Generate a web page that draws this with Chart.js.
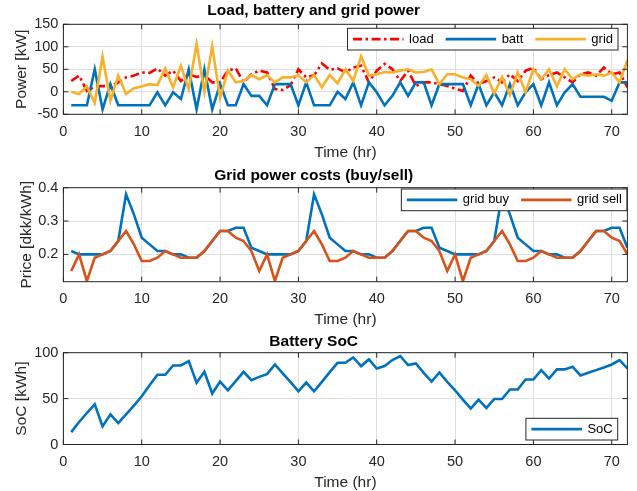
<!DOCTYPE html>
<html>
<head>
<meta charset="utf-8">
<script src="https://cdn.jsdelivr.net/npm/chart.js@4.4.1/dist/chart.umd.min.js"></script>
<style>
  html, body { margin: 0; padding: 0; background: #fff; }
  body { width: 637px; height: 491px; position: relative; overflow: hidden; }
  .panel { position: absolute; left: 0; width: 637px; }
</style>
</head>
<body>
<div class="panel" style="top:0;height:163px"><canvas id="power"></canvas></div>
<div class="panel" style="top:163px;height:165px"><canvas id="price"></canvas></div>
<div class="panel" style="top:328px;height:163px"><canvas id="soc"></canvas></div>
<script>
// ---- data ----
const loadKW = [24,36,2,12,13,12,21,32,36,43,42,52,36,47,24,39,33,37,21,21,47,52,21,39,
                47,43,6,4,15,50,32,37,63,49,52,43,54,58,21,47,62,50,24,47,13,21,21,17,
                13,7,2,36,17,24,32,21,39,24,47,53,28,37,43,32,21,39,43,36,54,39,43,10];
const battKW = [-30,-30,-30,50,-39,17,-30,-30,-30,-30,-30,-1,-30,-1,-16,50,-39,50,-39,17,-30,-30,17,-9,
                -9,-30,17,17,17,-30,21,-30,-30,-30,0,-16,21,-30,21,-1,-30,-9,21,-9,21,21,-30,17,
                17,17,17,-30,17,-30,-1,-30,17,-30,-1,17,-30,21,-30,-1,17,-11,-11,-11,-11,-20,21,21];
const gridKW = [0,-5,12,-25,78,-20,36,-5,8,12,17,15,52,10,58,6,106,0,101,-13,47,21,24,37,
                28,37,21,32,32,37,21,37,10,37,19,50,24,79,36,39,44,43,47,50,43,44,50,17,
                39,39,32,28,13,37,-4,33,-7,43,-1,50,28,50,12,50,28,39,36,39,36,43,21,70];
const priceBuy = [0.21,0.20,0.20,0.20,0.20,0.21,0.24,0.38,0.32,0.25,0.23,0.21,0.21,0.20,0.20,0.19,0.19,0.21,0.24,0.27,0.27,0.28,0.28,0.22,
                  0.21,0.20,0.20,0.20,0.20,0.21,0.24,0.38,0.32,0.25,0.23,0.21,0.21,0.20,0.20,0.19,0.19,0.21,0.24,0.27,0.27,0.28,0.28,0.22,
                  0.21,0.20,0.20,0.20,0.20,0.21,0.24,0.38,0.32,0.25,0.23,0.21,0.21,0.20,0.20,0.19,0.19,0.21,0.24,0.27,0.27,0.28,0.28,0.22];
const priceSell = [0.15,0.20,0.12,0.19,0.20,0.21,0.24,0.27,0.23,0.18,0.18,0.19,0.21,0.20,0.19,0.19,0.19,0.21,0.24,0.27,0.27,0.25,0.24,0.21,
                   0.15,0.20,0.12,0.19,0.20,0.21,0.24,0.27,0.23,0.18,0.18,0.19,0.21,0.20,0.19,0.19,0.19,0.21,0.24,0.27,0.27,0.25,0.24,0.21,
                   0.15,0.20,0.12,0.19,0.20,0.21,0.24,0.27,0.23,0.18,0.18,0.19,0.21,0.20,0.19,0.19,0.19,0.21,0.24,0.27,0.27,0.25,0.24,0.20];
const socKWh = [13.5,24.5,34.3,43.8,19.7,32.8,23.4,32.8,42.3,52.6,64.6,75.9,75.9,86.1,86.1,90.9,67.2,79.2,55.5,68.6,59.1,69,79.2,70.1,
                73.7,76.6,87.2,77.4,67.9,58,67.5,58,68.2,78.8,89,89,94.9,85.4,92.7,82.8,85.4,92,96.4,86.5,88.3,78.1,68.6,78.5,
                68.2,59.1,48.9,39.1,48.9,39.8,49.6,49.6,59.9,59.9,70.8,70.8,81,71.9,81.8,81.8,84.7,75.2,78.1,81,83.9,87.2,92,82.8];
const hours = socKWh.map((_, i) => i + 1);

const xTicks = [0, 10, 20, 30, 40, 50, 60, 70];
const powerTicks = [-50, 0, 50, 100, 150];
const priceTicks = [0.2, 0.3, 0.4];
const socTicks = [0, 50, 100];

// ---- styling ----
const FONT = "'Liberation Sans', Arial, Helvetica, sans-serif";
const AXIS = '#262626';
const GRID = '#dfdfdf';
const LW = 2.6;
const BLUE = '#0072BD', ORANGE = '#D95319', YELLOW = '#F9B02A', RED = '#FF0000';

function pts(ys) { return ys.map((y, i) => ({ x: hours[i], y: y })); }

// axes box plus inward tick marks, like the original
const boxPlugin = {
  id: 'axesBox',
  afterDatasetsDraw(chart) {
    const { ctx, chartArea: a, scales } = chart;
    const len = 5;
    ctx.save();
    ctx.strokeStyle = AXIS;
    ctx.lineWidth = 1;
    ctx.beginPath();
    scales.x.ticks.forEach(t => {
      const px = scales.x.getPixelForValue(t.value);
      ctx.moveTo(px, a.bottom); ctx.lineTo(px, a.bottom - len);
      ctx.moveTo(px, a.top); ctx.lineTo(px, a.top + len);
    });
    scales.y.ticks.forEach(t => {
      const py = scales.y.getPixelForValue(t.value);
      ctx.moveTo(a.left, py); ctx.lineTo(a.left + len, py);
      ctx.moveTo(a.right, py); ctx.lineTo(a.right - len, py);
    });
    ctx.stroke();
    ctx.strokeRect(a.left, a.top, a.right - a.left, a.bottom - a.top);
    ctx.restore();
  }
};

// legend drawn inside the plot area
const legendPlugin = {
  id: 'boxLegend',
  afterDraw(chart, args, opts) {
    const { ctx, chartArea: a } = chart;
    const pad = 5.5, lineLen = 50.5, gap = 5.5, sep = 12, padEnd = 5, h = 21.7;
    ctx.save();
    ctx.font = '13px ' + FONT;
    const items = chart.data.datasets.map(d => ({ d: d, w: ctx.measureText(d.label).width }));
    let width = pad + padEnd + sep * (items.length - 1);
    items.forEach(it => { width += lineLen + gap + it.w; });
    const x0 = a.right - opts.right - width;
    const y0 = opts.top != null ? a.top + opts.top : a.bottom - opts.bottom - h;
    ctx.fillStyle = '#fff';
    ctx.fillRect(x0, y0, width, h);
    ctx.strokeStyle = AXIS;
    ctx.lineWidth = 1;
    ctx.strokeRect(x0, y0, width, h);
    let x = x0 + pad;
    const cy = y0 + h / 2;
    items.forEach(it => {
      ctx.strokeStyle = it.d.borderColor;
      ctx.lineWidth = it.d.borderWidth || LW;
      ctx.setLineDash(it.d.borderDash || []);
      ctx.beginPath();
      ctx.moveTo(x, cy);
      ctx.lineTo(x + lineLen, cy);
      ctx.stroke();
      ctx.setLineDash([]);
      x += lineLen + gap;
      ctx.fillStyle = '#000';
      ctx.textBaseline = 'middle';
      ctx.textAlign = 'left';
      ctx.fillText(it.d.label, x, cy);
      x += it.w + sep;
    });
    ctx.restore();
  }
};

function makeChart(id, c) {
  return new Chart(document.getElementById(id), {
    type: 'line',
    data: { datasets: c.datasets },
    options: {
      responsive: true,
      maintainAspectRatio: false,
      animation: false,
      layout: { padding: { left: 0, right: 9.6, top: 0, bottom: 0 } },
      elements: { point: { radius: 0 }, line: { tension: 0, borderWidth: LW } },
      plugins: {
        legend: { display: false },
        tooltip: { enabled: false },
        title: {
          display: true, text: c.title, color: '#000',
          font: { family: FONT, size: 15.5, weight: 'bold', lineHeight: 1 },
          padding: c.titlePad
        },
        boxLegend: c.legend
      },
      scales: {
        x: {
          type: 'linear', min: 0, max: 72,
          afterBuildTicks: s => { s.ticks = xTicks.map(v => ({ value: v })); },
          afterFit: s => { s.height = c.xHeight; },
          grid: { color: GRID, drawTicks: false },
          border: { display: false },
          ticks: { color: AXIS, padding: 10, maxRotation: 0, font: { family: FONT, size: 14.5, lineHeight: 1 }, callback: v => v },
          title: { display: true, text: 'Time (hr)', color: AXIS,
                   font: { family: FONT, size: 15.5, lineHeight: 1 }, padding: { top: 0, bottom: c.xTitlePad } }
        },
        y: {
          min: c.yMin, max: c.yMax,
          afterBuildTicks: s => { s.ticks = c.yTicks.map(v => ({ value: v })); },
          afterFit: s => { s.width = 63.4; },
          grid: { color: GRID, drawTicks: false },
          border: { display: false },
          ticks: { color: AXIS, padding: 5, font: { family: FONT, size: 14.5, lineHeight: 1 }, callback: v => v },
          title: { display: true, text: c.yTitle, color: AXIS,
                   font: { family: FONT, size: 15.5, lineHeight: 1 }, padding: { top: c.yTitlePad, bottom: 0 } }
        }
      }
    },
    plugins: [boxPlugin, legendPlugin]
  });
}

makeChart('power', {
  title: 'Load, battery and grid power',
  titlePad: { top: 3.25, bottom: 5.55 },
  xHeight: 48.7, xTitlePad: 2.55,
  yMin: -50, yMax: 150, yTicks: powerTicks,
  yTitle: 'Power [kW]', yTitlePad: 13.75,
  legend: { right: 9.4, top: 4 },
  datasets: [
    { label: 'load', data: pts(loadKW), borderColor: RED, borderWidth: LW, borderDash: [9, 3.5, 2.5, 3.5], order: 2 },
    { label: 'batt', data: pts(battKW), borderColor: BLUE, borderWidth: LW, order: 1 },
    { label: 'grid', data: pts(gridKW), borderColor: YELLOW, borderWidth: LW, order: 0 }
  ]
});

makeChart('price', {
  title: 'Grid power costs (buy/sell)',
  titlePad: { top: 5.25, bottom: 3.95 },
  xHeight: 46.3, xTitlePad: 1,
  yMin: 0.118, yMax: 0.4, yTicks: priceTicks,
  yTitle: 'Price [dkk/kWh]', yTitlePad: 18.75,
  legend: { right: 0.5, top: 1.3 },
  datasets: [
    { label: 'grid buy', data: pts(priceBuy), borderColor: BLUE, borderWidth: LW, order: 1 },
    { label: 'grid sell', data: pts(priceSell), borderColor: ORANGE, borderWidth: LW, order: 0 }
  ]
});

makeChart('soc', {
  title: 'Battery SoC',
  titlePad: { top: 6.25, bottom: 2.95 },
  xHeight: 46.5, xTitlePad: 1,
  yMin: 0, yMax: 100, yTicks: socTicks,
  yTitle: 'SoC [kWh]', yTitlePad: 14,
  legend: { right: 9.7, bottom: 4.5 },
  datasets: [
    { label: 'SoC', data: pts(socKWh), borderColor: BLUE, borderWidth: LW }
  ]
});
</script>
</body>
</html>
